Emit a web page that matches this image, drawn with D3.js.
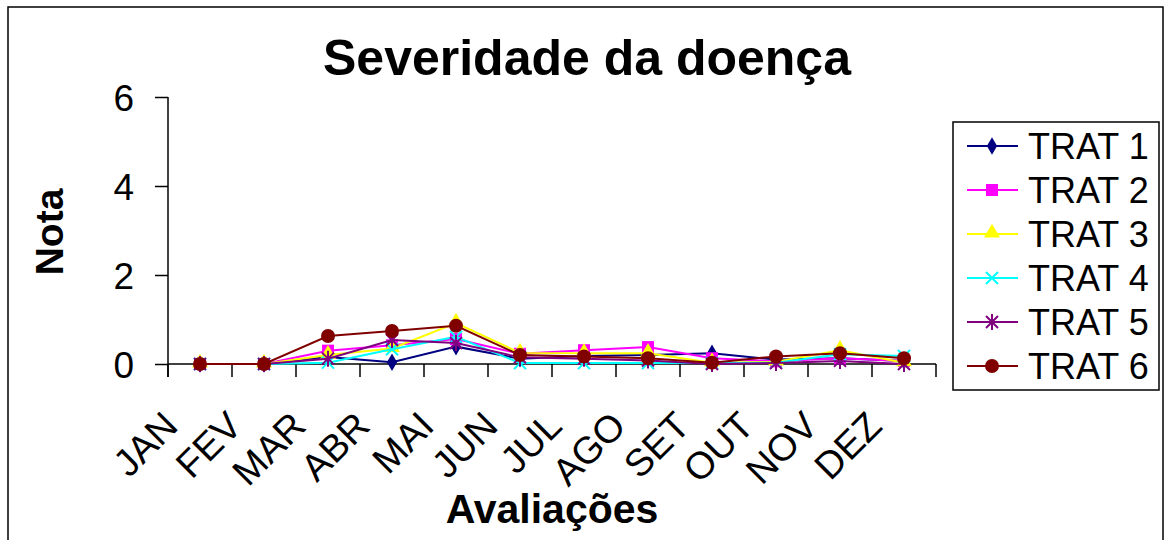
<!DOCTYPE html>
<html>
<head>
<meta charset="utf-8">
<script src="https://cdn.jsdelivr.net/npm/d3@7/dist/d3.min.js"></script>
<style>
  body { margin: 0; background: #fff; }
  text { font-family: "Liberation Sans", Arial, sans-serif; fill: #000; }
</style>
</head>
<body>
<div id="chart"></div>
<script>
var months = ['JAN', 'FEV', 'MAR', 'ABR', 'MAI', 'JUN', 'JUL', 'AGO', 'SET', 'OUT', 'NOV', 'DEZ'];
var seriesNames = ['TRAT 1', 'TRAT 2', 'TRAT 3', 'TRAT 4', 'TRAT 5', 'TRAT 6'];
var trat1 = [0, 0, 0.16, 0.04, 0.39, 0.12, 0.18, 0.20, 0.24, 0.10, 0.13, 0.07];
var trat2 = [0, 0, 0.30, 0.42, 0.56, 0.23, 0.31, 0.38, 0.13, 0.06, 0.13, 0.07];
var trat3 = [0, 0, 0.20, 0.35, 0.92, 0.25, 0.24, 0.24, 0.03, 0.05, 0.31, 0.03];
var trat4 = [0, 0, 0.03, 0.33, 0.61, 0.02, 0.02, 0.02, 0.02, 0.03, 0.22, 0.18];
var trat5 = [0, 0, 0.12, 0.54, 0.47, 0.15, 0.12, 0.08, 0, 0.02, 0.07, 0];
var trat6 = [0, 0, 0.63, 0.74, 0.86, 0.20, 0.17, 0.13, 0.03, 0.17, 0.24, 0.13];
var yTicks = [0, 2, 4, 6];

var colors = ['#000080', '#ff00ff', '#ffff00', '#00ffff', '#800080', '#800000'];
var shapes = ['diamond', 'square', 'triangle', 'x', 'star', 'circle'];
var series = [trat1, trat2, trat3, trat4, trat5, trat6];

var W = 1166, H = 540;
var svg = d3.select('#chart').append('svg')
    .attr('width', W)
    .attr('height', H);

// outer frame
svg.append('rect')
    .attr('x', 8).attr('y', 7)
    .attr('width', 1155).attr('height', 545)
    .style('fill', 'none')
    .style('stroke', '#000')
    .style('stroke-width', '1.5px');

var x = d3.scaleBand().domain(months).range([168, 936]).padding(0);
var y = d3.scaleLinear().domain([0, 6]).range([364, 97]);
function cx(m) { return x(m) + x.bandwidth() / 2; }

// y axis
var yAxis = d3.axisLeft(y).tickValues(yTicks).tickSize(13).tickSizeOuter(0).tickFormat(d3.format('d'));
var gy = svg.append('g').attr('transform', 'translate(168,0)').call(yAxis);
gy.select('.domain').remove();
gy.selectAll('.tick line').style('stroke', '#000').style('stroke-width', '1.5px');
gy.selectAll('.tick text')
    .attr('x', -34)
    .style('font-size', '37px')
    .style('font-family', '"Liberation Sans", Arial, sans-serif')
    .attr('dy', '0.36em');
svg.append('line')
    .attr('x1', 168).attr('x2', 168)
    .attr('y1', y(6)).attr('y2', 377)
    .style('stroke', '#000').style('stroke-width', '1.5px');

// x axis
svg.append('line')
    .attr('x1', 168).attr('x2', 936)
    .attr('y1', y(0)).attr('y2', y(0))
    .style('stroke', '#000').style('stroke-width', '1.5px');
var bounds = months.map(function (m) { return x(m); }).concat([x.range()[1]]);
svg.selectAll('.xtick').data(bounds).enter().append('line')
    .attr('class', 'xtick')
    .attr('x1', function (d) { return d; }).attr('x2', function (d) { return d; })
    .attr('y1', y(0)).attr('y2', y(0) + 13)
    .style('stroke', '#000').style('stroke-width', '1.5px');
svg.selectAll('.xlabel').data(months).enter().append('text')
    .attr('class', 'xlabel')
    .attr('text-anchor', 'end')
    .attr('transform', function (d) { return 'translate(' + (cx(d) - 20) + ',428) rotate(-45)'; })
    .style('font-size', '38px')
    .text(function (d) { return d; });

// titles
svg.append('text')
    .attr('x', 587).attr('y', 75)
    .attr('text-anchor', 'middle')
    .style('font-size', '50px').style('font-weight', 'bold')
    .text('Severidade da doença');
svg.append('text')
    .attr('transform', 'translate(63,232) rotate(-90)')
    .attr('text-anchor', 'middle')
    .style('font-size', '39px').style('font-weight', 'bold')
    .text('Nota');
svg.append('text')
    .attr('x', 552).attr('y', 523)
    .attr('text-anchor', 'middle')
    .style('font-size', '41px').style('font-weight', 'bold')
    .text('Avaliações');

function drawMarker(g, shape, color, px, py) {
    if (shape === 'diamond') {
        g.append('path').attr('d', d3.symbol(d3.symbolDiamond, 90)())
            .attr('transform', 'translate(' + px + ',' + py + ')').style('fill', color);
    } else if (shape === 'square') {
        g.append('rect').attr('x', px - 6).attr('y', py - 6).attr('width', 12).attr('height', 12).style('fill', color);
    } else if (shape === 'triangle') {
        g.append('path').attr('d', d3.symbol(d3.symbolTriangle, 110)())
            .attr('transform', 'translate(' + px + ',' + (py - 1) + ')').style('fill', color);
    } else if (shape === 'x') {
        g.append('path').attr('d', 'M-6,-6L6,6M-6,6L6,-6')
            .attr('transform', 'translate(' + px + ',' + py + ')')
            .style('stroke', color).style('stroke-width', '2px').style('fill', 'none');
    } else if (shape === 'star') {
        g.append('path').attr('d', 'M-6,-6L6,6M-6,6L6,-6M0,-8L0,8')
            .attr('transform', 'translate(' + px + ',' + py + ')')
            .style('stroke', color).style('stroke-width', '2px').style('fill', 'none');
    } else {
        g.append('circle').attr('cx', px).attr('cy', py).attr('r', 7).style('fill', color);
    }
}

var line = d3.line()
    .x(function (d, i) { return cx(months[i]); })
    .y(function (d) { return y(d); });

series.forEach(function (vals, s) {
    var g = svg.append('g').attr('class', 'series-' + s);
    g.append('path')
        .datum(vals)
        .attr('d', line)
        .style('fill', 'none')
        .style('stroke', colors[s])
        .style('stroke-width', '2px');
    vals.forEach(function (v, i) {
        drawMarker(g, shapes[s], colors[s], cx(months[i]), y(v));
    });
});

// legend
var leg = svg.append('g');
leg.append('rect')
    .attr('x', 953).attr('y', 122)
    .attr('width', 206).attr('height', 268)
    .style('fill', '#fff')
    .style('stroke', '#000')
    .style('stroke-width', '1.5px');
seriesNames.forEach(function (name, s) {
    var ly = 146 + s * 44;
    leg.append('line')
        .attr('x1', 967).attr('x2', 1018)
        .attr('y1', ly).attr('y2', ly)
        .style('stroke', colors[s]).style('stroke-width', '2px');
    drawMarker(leg, shapes[s], colors[s], 992, ly);
    leg.append('text')
        .attr('x', 1028).attr('y', ly)
        .attr('dy', '0.36em')
        .style('font-size', '36px')
        .text(name);
});
</script>
</body>
</html>
